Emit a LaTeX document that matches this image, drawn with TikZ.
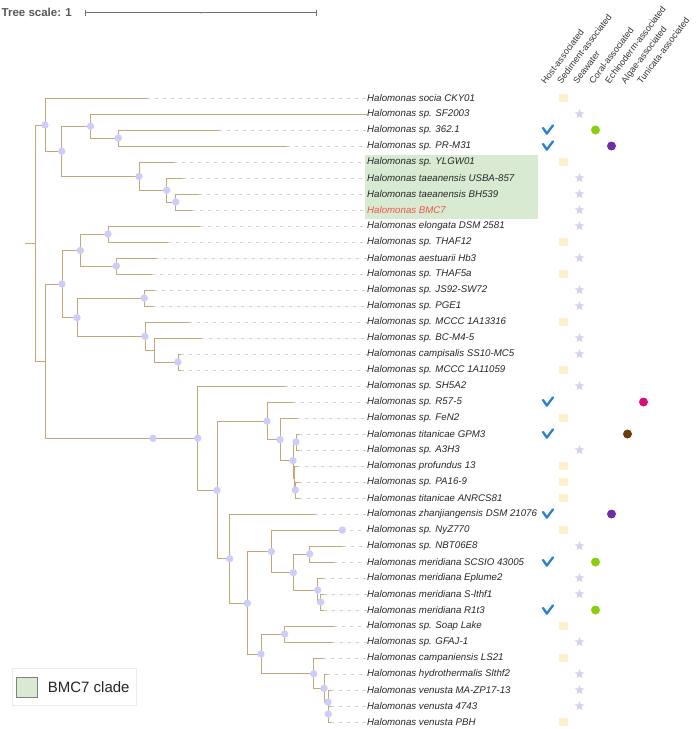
\documentclass[tikz,border=0pt]{standalone}
\usepackage{fontspec}
\setmainfont{Liberation Sans}
\usepackage{tikz}
\usetikzlibrary{positioning,shapes.geometric,arrows.meta}

\definecolor{branchtan}{RGB}{196,166,120}
\definecolor{leadergray}{RGB}{205,205,205}
\definecolor{dotlav}{RGB}{205,205,250}
\definecolor{cladegreen}{RGB}{217,234,211}
\definecolor{bmcred}{RGB}{240,85,70}
\definecolor{checkblue}{RGB}{35,130,210}
\definecolor{sqcream}{RGB}{254,240,205}
\definecolor{starlav}{RGB}{212,208,238}
\definecolor{coralgreen}{RGB}{140,205,20}
\definecolor{echinopurple}{RGB}{110,45,160}
\definecolor{algaebrown}{RGB}{110,60,10}
\definecolor{tunimagenta}{RGB}{215,15,120}

\tikzset{
  branch/.style={draw=branchtan,line width=0.9pt},
  leader/.style={draw=leadergray,line width=0.7pt,dash pattern=on 3pt off 5pt},
  bootdot/.style={fill=dotlav},
  leaflabel/.style={anchor=west,inner sep=0pt,font=\fontsize{9.7}{11}\selectfont\itshape,text=black!85},
  colhead/.style={anchor=base west,rotate=53,inner sep=0pt,font=\fontsize{9}{10}\selectfont,text=black!80},
  hostsq/.style={rectangle,fill=sqcream,minimum size=8.7pt,inner sep=0pt},
  seastar/.style={star,star points=5,star point ratio=2.4,fill=starlav,minimum size=10pt,inner sep=0pt},
  dotmark/.style={circle,fill=#1,minimum size=9pt,inner sep=0pt},
  hostcheck/.pic={\draw[draw=checkblue,line width=2.3pt,line cap=round,line join=round] (-4.5,-2) -- (-0.7,3.6) -- (5.5,-4.6);}
}

\begin{document}
\begin{tikzpicture}[x=1pt,y=-1pt]
\useasboundingbox (0,0) rectangle (696,729);

% tree scale
\node[anchor=west,inner sep=0pt,font=\fontsize{11.5}{12}\selectfont\bfseries,text=black!65] (scl) at (1.5,12.5) {Tree scale: 1};
\coordinate (sb1) at (85,12.7);
\coordinate (sb2) at (317,12.7);
\draw[black!55,line width=1pt,{Bar[width=6pt]}-{Bar[width=6pt]}] (sb1) -- (sb2);
\fill[black!55] (201,12.7) circle (0.9);

% clade highlight
\fill[cladegreen] (365,154.7) rectangle (537.7,218.7);

% internal nodes
\coordinate (stub) at (25,243);
\foreach \n/\x/\y in {rt/35/243, A/45/125, B/61.7/151.3, C/90.5/126.3, E/118.3/138, D/139/176.5,
    F/166.7/190.3, G/175.7/202, H/45/361, I/62/284, K/80.3/250.5, M/108/234, N/116.3/266,
    L/77/317.6, O/144.3/298, P/145/336.3, Q/154/350.3, R/178/362, J/197.7/438.3, S/217/490.3,
    U/267/421.2, W/280/439.6, Y/293/460.6, X/296/442, Y2/294/478.5, Z/295.3/490, V/229.7/558.8,
    AA/247.3/603.3, AB/271.3/551.5, AE/293.3/572.6, AD/309.7/554, AF/317.7/590, AG/320.7/602,
    AC/261/654, AH/284.7/634, AI/313.7/673.7, AJ/324/688.3, AK/328/702, AL/328.3/714}
  \coordinate (\n) at (\x,\y);

% leaf tips
\foreach \i/\x in {1/146.7, 3/219.3, 4/287.3, 5/174, 6/182.7, 7/199, 8/192, 9/200, 10/167.7,
    11/155.7, 12/151.7, 13/154, 14/153.3, 15/189, 16/201, 17/181, 18/181, 19/285, 20/293.3,
    21/297.3, 22/298.5, 23/298.5, 24/297, 25/298.5, 26/298.5, 27/315, 28/342.3, 29/343.3,
    30/334, 31/322.7, 32/323.5, 33/323.5, 34/334, 35/331.7, 36/323.3, 37/327, 38/331,
    39/331, 40/331}
  \coordinate (t\i) at (\x,{98+16*(\i-1)});

% labels
\foreach \i/\s in {1/socia CKY01, 2/sp. SF2003, 3/sp. 362.1, 4/sp. PR-M31, 5/sp. YLGW01,
    6/taeanensis USBA-857, 7/taeanensis BH539, 9/elongata DSM 2581, 10/sp. THAF12,
    11/aestuarii Hb3, 12/sp. THAF5a, 13/sp. JS92-SW72, 14/sp. PGE1, 15/sp. MCCC 1A13316,
    16/sp. BC-M4-5, 17/campisalis SS10-MC5, 18/sp. MCCC 1A11059, 19/sp. SH5A2, 20/sp. R57-5,
    21/sp. FeN2, 22/titanicae GPM3, 23/sp. A3H3, 24/profundus 13, 25/sp. PA16-9,
    26/titanicae ANRCS81, 27/zhanjiangensis DSM 21076, 28/sp. NyZ770, 29/sp. NBT06E8,
    30/meridiana SCSIO 43005, 31/meridiana Eplume2, 32/meridiana S-lthf1, 33/meridiana R1t3,
    34/sp. Soap Lake, 35/sp. GFAJ-1, 36/campaniensis LS21, 37/hydrothermalis Slthf2,
    38/venusta MA-ZP17-13, 39/venusta 4743, 40/venusta PBH}
  \node[leaflabel] (l\i) at (367,{98+16*(\i-1)}) {Halomonas \s};
\node[leaflabel,text=bmcred] (l8) at (367,210) {Halomonas BMC7};

% dashed leaders
\foreach \i in {1,3,4,...,40}
  \draw[leader] (t\i) -- (l\i.west);

% branches
\draw[branch] (stub) -- (rt);
\foreach \p/\c in {rt/A, rt/H, A/t1, A/B, B/C, B/D, C/l2.west, C/E, E/t3, E/t4, D/t5, D/F,
    F/t6, F/G, G/t7, G/t8, H/I, H/J, I/K, I/L, K/M, K/N, M/t9, M/t10, N/t11, N/t12, L/O, L/P,
    O/t13, O/t14, P/t15, P/Q, Q/t16, Q/R, R/t17, R/t18, J/t19, J/S, S/U, S/V, U/t20, U/W,
    W/t21, W/Y, Y/X, Y/Y2, X/t22, X/t23, Y2/t24, Y2/Z, Z/t25, Z/t26, V/t27, V/AA, AA/AB, AA/AC,
    AB/t28, AB/AE, AE/AD, AE/AF, AD/t29, AD/t30, AF/t31, AF/AG, AG/t32, AG/t33, AC/AH, AC/AI,
    AH/t34, AH/t35, AI/t36, AI/AJ, AJ/t37, AJ/AK, AK/t38, AK/AL, AL/t39, AL/t40}
  \draw[branch] (\p) |- (\c);

% support dots
\foreach \n in {A,B,C,E,D,F,G,I,K,M,N,L,O,P,R,J,S,U,W,Y,X,Z,V,AA,AB,AE,AD,AF,AG,AC,AH,AI,AJ,AK,AL,t28}
  \fill[bootdot] (\n) circle (3.7);
\fill[bootdot] (153,438.3) circle (3.7);

% column headers
\foreach \k/\h in {0/Host-associated, 1/Sediment-associated, 2/Seawater, 3/Coral-associated,
    4/Echinoderm-associated, 5/Algae-associated, 6/Tunicata-associated}
  \node[colhead] (h\k) at ({545.5+16*\k},84.5) {\h};

% habitat marks
\foreach \i in {3,4,20,22,27,30,33}
  \pic at (547.5,{98+16*(\i-1)}) {hostcheck};
\foreach \i in {1,5,10,12,15,18,21,24,25,26,28,34,36,40}
  \node[hostsq] (sq\i) at (563.5,{98+16*(\i-1)}) {};
\foreach \i in {2,6,7,8,9,11,13,14,16,17,19,23,29,31,32,35,37,38,39}
  \node[seastar] (st\i) at (579.5,{98+16*(\i-1)}) {};
\foreach \i in {3,30,33}
  \node[dotmark=coralgreen] (co\i) at (595.5,{98+16*(\i-1)}) {};
\foreach \i in {4,27}
  \node[dotmark=echinopurple] (ec\i) at (611.5,{98+16*(\i-1)}) {};
\node[dotmark=algaebrown] (al22) at (627.5,434) {};
\node[dotmark=tunimagenta] (tu20) at (643.5,402) {};

% legend
\draw[black!8,fill=white] (11.7,668) rectangle (136,705);
\node[draw=black!50,fill=cladegreen,minimum size=20.5pt,inner sep=0pt] (key) at (26.5,687) {};
\node[anchor=west,inner sep=0pt,font=\fontsize{15}{16}\selectfont,text=black!85] (keytxt) at (47.7,686.7) {BMC7 clade};
\end{tikzpicture}
\end{document}
